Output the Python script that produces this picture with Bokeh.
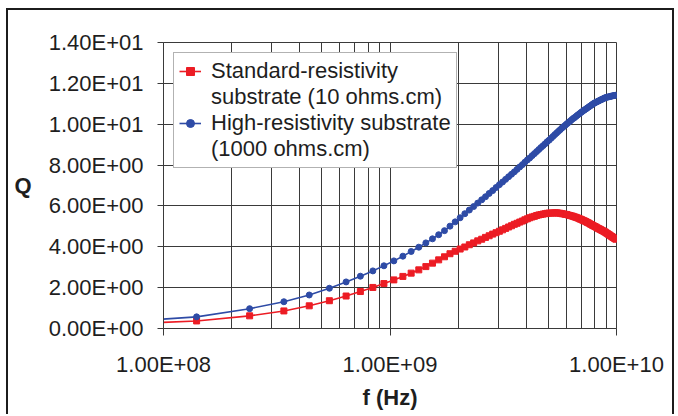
from bokeh.plotting import figure
from bokeh.models import Range1d, FixedTicker, CustomJSTickFormatter, Legend, LegendItem
from bokeh.embed import file_html
from bokeh.resources import INLINE

# ---- data ----
freq_ghz = [0.04, 0.14, 0.24, 0.34, 0.44, 0.54, 0.64, 0.74, 0.84, 0.94,
            1.04, 1.14, 1.24, 1.34, 1.44, 1.54, 1.64, 1.74, 1.84, 1.94,
            2.04, 2.14, 2.24, 2.34, 2.44, 2.54, 2.64, 2.74, 2.84, 2.94,
            3.04, 3.14, 3.24, 3.34, 3.44, 3.54, 3.64, 3.74, 3.84, 3.94,
            4.04, 4.14, 4.24, 4.34, 4.44, 4.54, 4.64, 4.74, 4.84, 4.94,
            5.04, 5.14, 5.24, 5.34, 5.44, 5.54, 5.64, 5.74, 5.84, 5.94,
            6.04, 6.14, 6.24, 6.34, 6.44, 6.54, 6.64, 6.74, 6.84, 6.94,
            7.04, 7.14, 7.24, 7.34, 7.44, 7.54, 7.64, 7.74, 7.84, 7.94,
            8.04, 8.14, 8.24, 8.34, 8.44, 8.54, 8.64, 8.74, 8.84, 8.94,
            9.04, 9.14, 9.24, 9.34, 9.44, 9.54, 9.64, 9.74, 9.84, 9.94]

q_standard = [0.11, 0.37, 0.62, 0.86, 1.11, 1.36, 1.59, 1.81, 2.01, 2.20,
              2.38, 2.55, 2.71, 2.87, 3.03, 3.20, 3.36, 3.51, 3.66, 3.78,
              3.89, 3.99, 4.10, 4.19, 4.29, 4.37, 4.46, 4.54, 4.62, 4.69,
              4.76, 4.83, 4.90, 4.97, 5.03, 5.10, 5.15, 5.21, 5.26, 5.32,
              5.37, 5.42, 5.46, 5.49, 5.53, 5.56, 5.58, 5.60, 5.62, 5.64,
              5.65, 5.65, 5.65, 5.66, 5.66, 5.65, 5.64, 5.62, 5.61, 5.59,
              5.58, 5.55, 5.53, 5.51, 5.49, 5.46, 5.44, 5.41, 5.38, 5.35,
              5.32, 5.29, 5.26, 5.23, 5.19, 5.16, 5.12, 5.09, 5.05, 5.02,
              4.99, 4.96, 4.92, 4.89, 4.86, 4.83, 4.80, 4.77, 4.74, 4.71,
              4.67, 4.64, 4.60, 4.57, 4.53, 4.50, 4.46, 4.43, 4.40, 4.37]

q_high = [0.16, 0.57, 0.97, 1.31, 1.64, 1.97, 2.28, 2.56, 2.82, 3.07,
          3.31, 3.54, 3.77, 3.98, 4.19, 4.39, 4.59, 4.79, 5.01, 5.22,
          5.42, 5.62, 5.80, 5.97, 6.14, 6.30, 6.45, 6.61, 6.75, 6.90,
          7.04, 7.17, 7.30, 7.43, 7.55, 7.67, 7.79, 7.91, 8.02, 8.14,
          8.25, 8.35, 8.46, 8.56, 8.66, 8.76, 8.86, 8.95, 9.04, 9.14,
          9.22, 9.31, 9.40, 9.49, 9.57, 9.65, 9.73, 9.81, 9.88, 9.95,
          10.02, 10.09, 10.15, 10.22, 10.28, 10.33, 10.39, 10.45, 10.50, 10.56,
          10.61, 10.66, 10.71, 10.75, 10.80, 10.84, 10.89, 10.93, 10.98, 11.02,
          11.05, 11.08, 11.11, 11.14, 11.17, 11.20, 11.22, 11.25, 11.28, 11.30,
          11.32, 11.33, 11.34, 11.35, 11.37, 11.38, 11.39, 11.40, 11.41, 11.42]

x_major_ticks = [1e8, 1e9, 1e10]
x_minor_ticks = [2e8, 3e8, 4e8, 5e8, 6e8, 7e8, 8e8, 9e8,
                 2e9, 3e9, 4e9, 5e9, 6e9, 7e9, 8e9, 9e9]
y_ticks = [0, 2, 4, 6, 8, 10, 12, 14]

legend_standard = ["Standard-resistivity", "substrate (10 ohms.cm)"]
legend_high = ["High-resistivity substrate", "(1000 ohms.cm)"]

x_label = "f (Hz)"
y_label = "Q"

RED = "#EC1C24"
BLUE = "#2E4BA6"
GRID = "#3a3a3a"
TEXT = "#1e1e1e"
FONT = "Liberation Sans"

f_hz = [v * 1e9 for v in freq_ghz]

p = figure(width=668, height=406, x_axis_type="log",
           x_range=Range1d(1e8, 1e10), y_range=Range1d(0, 14),
           output_backend="svg", toolbar_location=None,
           min_border_left=155, min_border_top=32,
           min_border_right=60, min_border_bottom=88,
           background_fill_color="white", border_fill_color="white")
p.styles = {"border": "2px solid #1c1c1c", "border-bottom": "none",
            "margin-left": "6px", "margin-top": "8px"}

# series
r_line = p.line(f_hz, q_standard, line_color=RED, line_width=1.6)
r_pts = p.scatter(f_hz, q_standard, marker="square", size=6,
                  fill_color=RED, line_color=RED)
b_line = p.line(f_hz, q_high, line_color=BLUE, line_width=1.6)
b_pts = p.scatter(f_hz, q_high, marker="circle", size=6,
                  fill_color=BLUE, line_color=BLUE)
blank = p.line(x=[], y=[], line_alpha=0)

# axes / ticks
xt = FixedTicker(ticks=x_major_ticks, minor_ticks=x_minor_ticks)
yt = FixedTicker(ticks=y_ticks)
p.xaxis.ticker = xt
p.yaxis.ticker = yt
p.xgrid.ticker = xt
p.ygrid.ticker = yt

fmt = CustomJSTickFormatter(code=r"""
return tick.toExponential(2).toUpperCase().replace(/E([+-])(\d)$/, (m, s, d) => 'E' + s + '0' + d);
""")
p.xaxis.formatter = fmt
p.yaxis.formatter = fmt

for ax in (p.xaxis, p.yaxis):
    ax.major_label_text_font = FONT
    ax.major_label_text_font_size = "22px"
    ax.major_label_text_color = TEXT
    ax.axis_label_text_font = FONT
    ax.axis_label_text_font_size = "22px"
    ax.axis_label_text_font_style = "bold"
    ax.axis_label_text_color = TEXT
    ax.axis_line_color = GRID
    ax.major_tick_line_color = GRID
    ax.minor_tick_line_color = None
    ax.major_tick_in = 0

p.xaxis.axis_label = x_label
p.yaxis.axis_label = y_label
p.yaxis.axis_label_orientation = "horizontal"
p.yaxis.major_tick_out = 6
p.xaxis.major_tick_out = 7
p.yaxis.major_label_standoff = 14
p.xaxis.major_label_standoff = 16
p.yaxis.axis_label_standoff = 14
p.xaxis.axis_label_standoff = 5

p.xgrid.grid_line_color = GRID
p.xgrid.minor_grid_line_color = GRID
p.ygrid.grid_line_color = GRID
p.outline_line_color = GRID

legend = Legend(items=[
    LegendItem(label=legend_standard[0], renderers=[r_line, r_pts]),
    LegendItem(label=legend_standard[1], renderers=[blank]),
    LegendItem(label=legend_high[0], renderers=[b_line, b_pts]),
    LegendItem(label=legend_high[1], renderers=[blank]),
], location="top_left", margin=10, padding=5, spacing=0,
    label_height=25, glyph_height=20, glyph_width=22, label_standoff=10,
    label_text_font=FONT, label_text_font_size="22px", label_text_color=TEXT,
    border_line_color="#666666", border_line_width=1.5,
    background_fill_color="white", background_fill_alpha=1.0)
p.add_layout(legend)

open("out.html", "w").write(file_html(p, INLINE))
